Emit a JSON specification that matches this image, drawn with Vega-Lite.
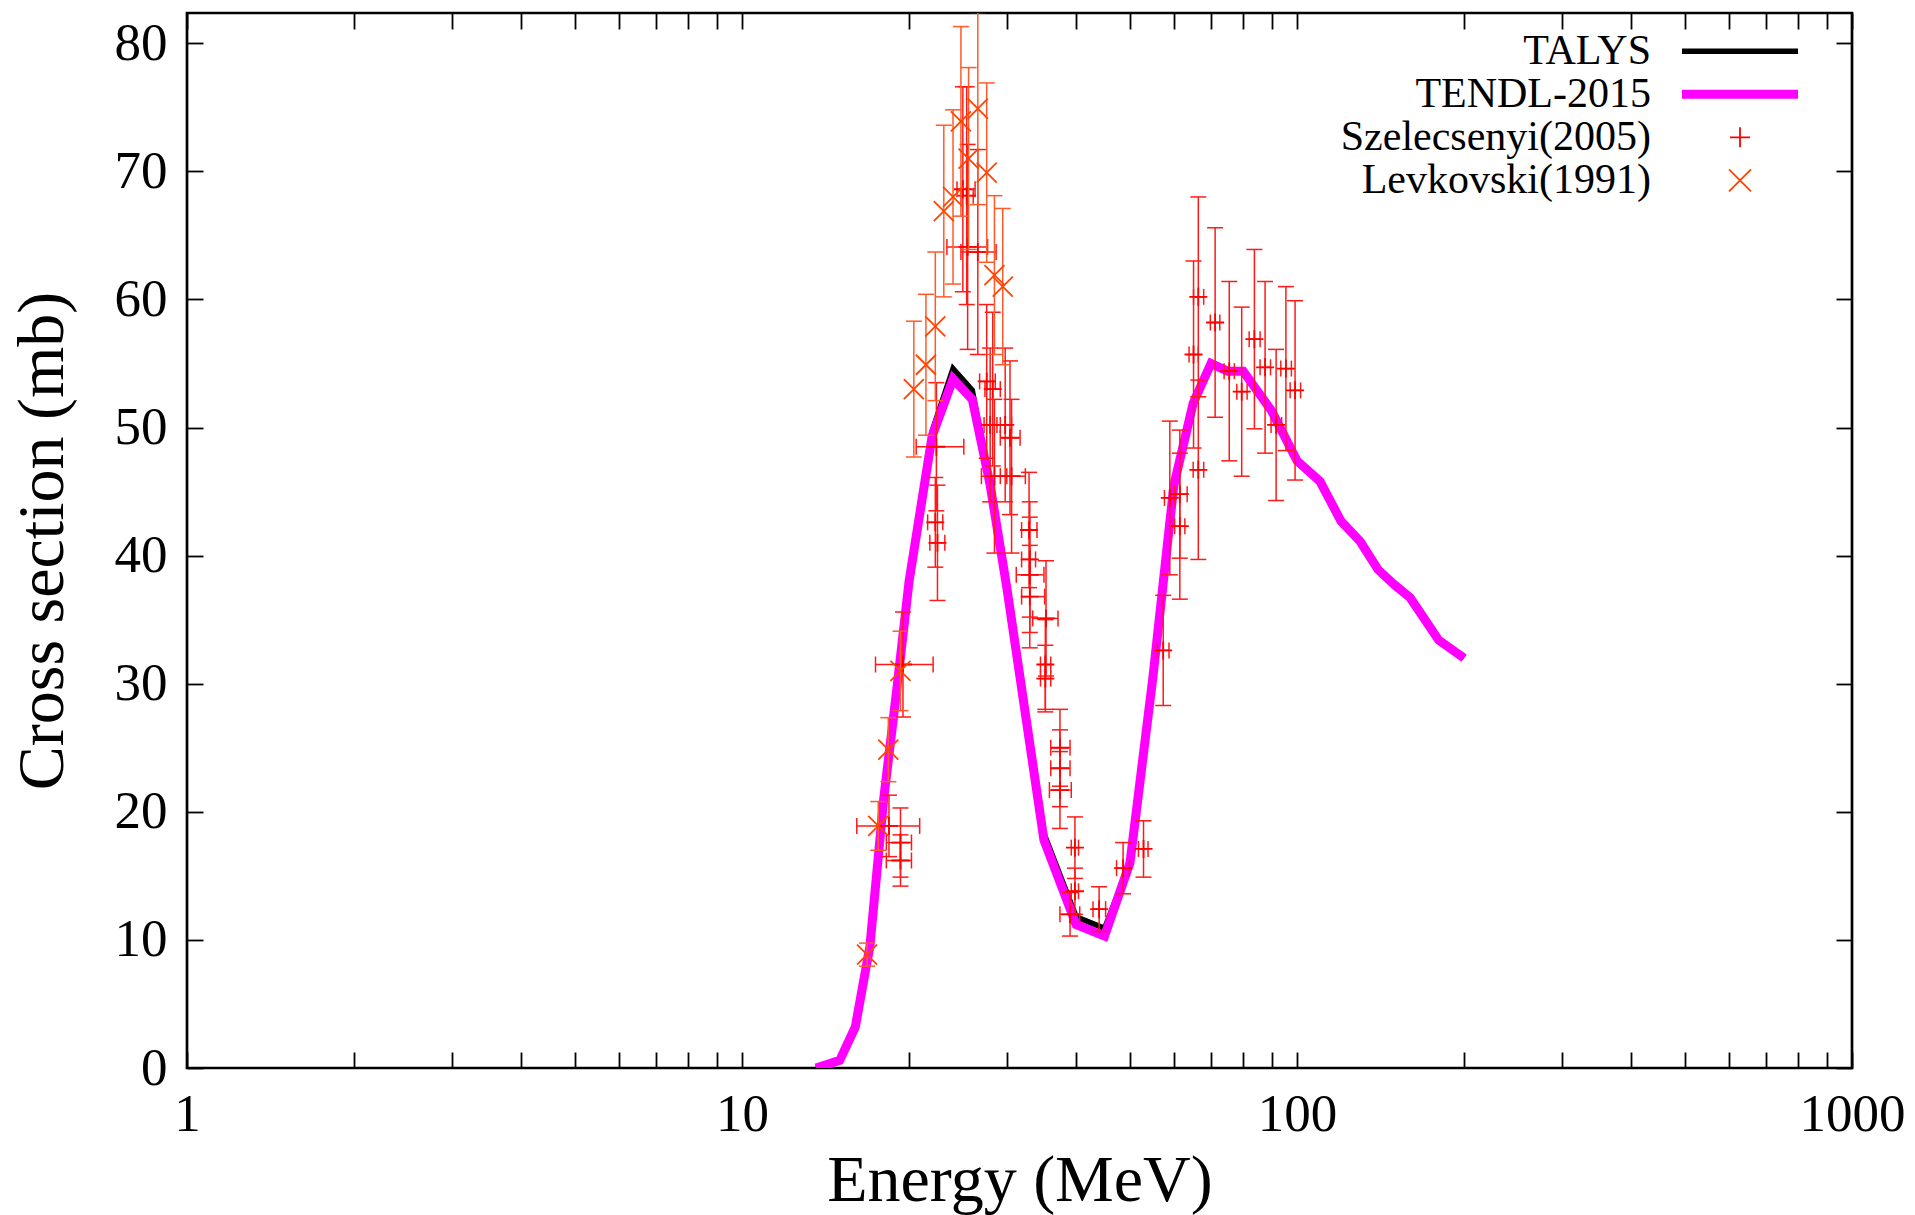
{
  "$schema": "https://vega.github.io/schema/vega-lite/v6.json",
  "width": 1665,
  "height": 1055,
  "autosize": {"type": "none"},
  "padding": {"left": 187, "top": 13, "right": 63, "bottom": 147},
  "background": "white",
  "config": {
    "view": {"stroke": "black", "strokeWidth": 2.7},
    "font": "Liberation Serif",
    "axis": {"domain": false, "grid": false, "tickColor": "black", "tickWidth": 1.8, "labelFont": "Liberation Serif", "labelColor": "black", "titleFont": "Liberation Serif", "titleColor": "black", "titleFontWeight": "normal"}
  },
  "datasets": {
    "talys": [
      {"E": 13.6, "s": 0, "series": "TALYS"}, {"E": 15, "s": 0.6, "series": "TALYS"}, {"E": 16, "s": 3.2, "series": "TALYS"},
      {"E": 17, "s": 9.5, "series": "TALYS"}, {"E": 18, "s": 21, "series": "TALYS"}, {"E": 19, "s": 29.5, "series": "TALYS"},
      {"E": 20, "s": 38, "series": "TALYS"}, {"E": 22, "s": 49.7, "series": "TALYS"}, {"E": 24, "s": 54.6, "series": "TALYS"},
      {"E": 26, "s": 52.9, "series": "TALYS"}, {"E": 28, "s": 45.5, "series": "TALYS"}, {"E": 30, "s": 37.5, "series": "TALYS"},
      {"E": 35, "s": 18.3, "series": "TALYS"}, {"E": 40, "s": 11.8, "series": "TALYS"}, {"E": 45, "s": 10.9, "series": "TALYS"},
      {"E": 50, "s": 16, "series": "TALYS"}, {"E": 55, "s": 30.5, "series": "TALYS"}, {"E": 60, "s": 45.5, "series": "TALYS"},
      {"E": 65, "s": 51.9, "series": "TALYS"}, {"E": 70, "s": 55.0, "series": "TALYS"}, {"E": 75, "s": 54.4, "series": "TALYS"},
      {"E": 80, "s": 54.4, "series": "TALYS"}, {"E": 90, "s": 51.3, "series": "TALYS"}, {"E": 100, "s": 47.4, "series": "TALYS"},
      {"E": 110, "s": 45.8, "series": "TALYS"}, {"E": 120, "s": 42.7, "series": "TALYS"}, {"E": 130, "s": 41.1, "series": "TALYS"},
      {"E": 140, "s": 38.9, "series": "TALYS"}, {"E": 150, "s": 37.7, "series": "TALYS"}, {"E": 160, "s": 36.7, "series": "TALYS"},
      {"E": 180, "s": 33.4, "series": "TALYS"}, {"E": 200, "s": 32.0, "series": "TALYS"}
    ],
    "tendl": [
      {"E": 13.6, "s": 0, "series": "TENDL-2015"}, {"E": 15, "s": 0.6, "series": "TENDL-2015"}, {"E": 16, "s": 3.2, "series": "TENDL-2015"},
      {"E": 17, "s": 9.5, "series": "TENDL-2015"}, {"E": 18, "s": 21, "series": "TENDL-2015"}, {"E": 19, "s": 29.5, "series": "TENDL-2015"},
      {"E": 20, "s": 38, "series": "TENDL-2015"}, {"E": 22, "s": 49.3, "series": "TENDL-2015"}, {"E": 24, "s": 53.8, "series": "TENDL-2015"},
      {"E": 26, "s": 52.2, "series": "TENDL-2015"}, {"E": 28, "s": 45.5, "series": "TENDL-2015"}, {"E": 30, "s": 37.5, "series": "TENDL-2015"},
      {"E": 35, "s": 17.8, "series": "TENDL-2015"}, {"E": 40, "s": 11.2, "series": "TENDL-2015"}, {"E": 45, "s": 10.3, "series": "TENDL-2015"},
      {"E": 50, "s": 16, "series": "TENDL-2015"}, {"E": 55, "s": 30.5, "series": "TENDL-2015"}, {"E": 60, "s": 45.5, "series": "TENDL-2015"},
      {"E": 65, "s": 51.9, "series": "TENDL-2015"}, {"E": 70, "s": 55.0, "series": "TENDL-2015"}, {"E": 75, "s": 54.4, "series": "TENDL-2015"},
      {"E": 80, "s": 54.4, "series": "TENDL-2015"}, {"E": 90, "s": 51.3, "series": "TENDL-2015"}, {"E": 100, "s": 47.4, "series": "TENDL-2015"},
      {"E": 110, "s": 45.8, "series": "TENDL-2015"}, {"E": 120, "s": 42.7, "series": "TENDL-2015"}, {"E": 130, "s": 41.1, "series": "TENDL-2015"},
      {"E": 140, "s": 38.9, "series": "TENDL-2015"}, {"E": 150, "s": 37.7, "series": "TENDL-2015"}, {"E": 160, "s": 36.7, "series": "TENDL-2015"},
      {"E": 180, "s": 33.4, "series": "TENDL-2015"}, {"E": 200, "s": 32.0, "series": "TENDL-2015"}
    ],
    "szel": [
      {"E": 18.4, "s": 18.9, "elo": 16.1, "ehi": 20.9, "slo": 16.5, "shi": 21.3, "series": "Szelecsenyi(2005)"},
      {"E": 19.3, "s": 17.6, "elo": 18.2, "ehi": 20.2, "slo": 14.9, "shi": 20.3, "series": "Szelecsenyi(2005)"},
      {"E": 19.3, "s": 16.2, "elo": 18.2, "ehi": 20.2, "slo": 14.2, "shi": 18.2, "series": "Szelecsenyi(2005)"},
      {"E": 19.5, "s": 31.5, "elo": 17.4, "ehi": 22.1, "slo": 27.4, "shi": 35.6, "series": "Szelecsenyi(2005)"},
      {"E": 22.4, "s": 48.5, "elo": 20.6, "ehi": 25.1, "slo": 43.5, "shi": 53.5, "series": "Szelecsenyi(2005)"},
      {"E": 22.3, "s": 42.6, "elo": 21.6, "ehi": 23.0, "slo": 39.1, "shi": 46.1, "series": "Szelecsenyi(2005)"},
      {"E": 22.5, "s": 41.0, "elo": 21.8, "ehi": 23.2, "slo": 36.5, "shi": 45.5, "series": "Szelecsenyi(2005)"},
      {"E": 25.0, "s": 68.6, "elo": 24.4, "ehi": 26.3, "slo": 60.6, "shi": 76.6, "series": "Szelecsenyi(2005)"},
      {"E": 25.4, "s": 68.1, "elo": 24.8, "ehi": 26.1, "slo": 59.6, "shi": 76.6, "series": "Szelecsenyi(2005)"},
      {"E": 25.5, "s": 64.1, "elo": 23.4, "ehi": 27.7, "slo": 56.1, "shi": 72.1, "series": "Szelecsenyi(2005)"},
      {"E": 26.6, "s": 63.7, "elo": 24.8, "ehi": 28.7, "slo": 55.7, "shi": 71.7, "series": "Szelecsenyi(2005)"},
      {"E": 27.6, "s": 53.6, "elo": 26.8, "ehi": 28.6, "slo": 47.6, "shi": 59.6, "series": "Szelecsenyi(2005)"},
      {"E": 28.3, "s": 53.0, "elo": 27.4, "ehi": 29.2, "slo": 47.0, "shi": 59.0, "series": "Szelecsenyi(2005)"},
      {"E": 28.0, "s": 50.2, "elo": 27.3, "ehi": 28.8, "slo": 44.2, "shi": 56.2, "series": "Szelecsenyi(2005)"},
      {"E": 29.8, "s": 50.2, "elo": 29.2, "ehi": 30.6, "slo": 44.2, "shi": 56.2, "series": "Szelecsenyi(2005)"},
      {"E": 30.4, "s": 49.2, "elo": 29.2, "ehi": 31.7, "slo": 43.2, "shi": 55.2, "series": "Szelecsenyi(2005)"},
      {"E": 28.5, "s": 46.2, "elo": 27.0, "ehi": 30.0, "slo": 40.2, "shi": 52.2, "series": "Szelecsenyi(2005)"},
      {"E": 30.6, "s": 46.2, "elo": 29.2, "ehi": 32.4, "slo": 40.2, "shi": 52.2, "series": "Szelecsenyi(2005)"},
      {"E": 32.9, "s": 42.0, "elo": 31.9, "ehi": 34.0, "slo": 37.5, "shi": 46.5, "series": "Szelecsenyi(2005)"},
      {"E": 33.0, "s": 39.7, "elo": 31.9, "ehi": 33.8, "slo": 35.2, "shi": 44.2, "series": "Szelecsenyi(2005)"},
      {"E": 33.0, "s": 38.5, "elo": 31.2, "ehi": 35.0, "slo": 34.0, "shi": 43.0, "series": "Szelecsenyi(2005)"},
      {"E": 33.0, "s": 36.8, "elo": 31.9, "ehi": 35.1, "slo": 32.8, "shi": 40.8, "series": "Szelecsenyi(2005)"},
      {"E": 35.3, "s": 35.1, "elo": 33.4, "ehi": 37.1, "slo": 30.6, "shi": 39.6, "series": "Szelecsenyi(2005)"},
      {"E": 35.2, "s": 31.5, "elo": 34.5, "ehi": 36.0, "slo": 28.0, "shi": 35.0, "series": "Szelecsenyi(2005)"},
      {"E": 35.2, "s": 30.4, "elo": 34.5, "ehi": 36.0, "slo": 27.8, "shi": 33.0, "series": "Szelecsenyi(2005)"},
      {"E": 37.4, "s": 25.0, "elo": 36.0, "ehi": 39.0, "slo": 22.0, "shi": 28.0, "series": "Szelecsenyi(2005)"},
      {"E": 37.4, "s": 23.4, "elo": 36.0, "ehi": 39.0, "slo": 20.4, "shi": 26.4, "series": "Szelecsenyi(2005)"},
      {"E": 37.4, "s": 21.7, "elo": 35.8, "ehi": 39.2, "slo": 18.7, "shi": 24.7, "series": "Szelecsenyi(2005)"},
      {"E": 39.8, "s": 17.2, "elo": 39.2, "ehi": 40.4, "slo": 14.8, "shi": 19.6, "series": "Szelecsenyi(2005)"},
      {"E": 39.8, "s": 13.8, "elo": 39.2, "ehi": 40.4, "slo": 12.0, "shi": 15.6, "series": "Szelecsenyi(2005)"},
      {"E": 39.0, "s": 12.0, "elo": 37.4, "ehi": 40.6, "slo": 10.3, "shi": 13.7, "series": "Szelecsenyi(2005)"},
      {"E": 44.0, "s": 12.4, "elo": 42.9, "ehi": 45.2, "slo": 10.65, "shi": 14.15, "series": "Szelecsenyi(2005)"},
      {"E": 48.6, "s": 15.6, "elo": 47.3, "ehi": 49.9, "slo": 13.6, "shi": 17.6, "series": "Szelecsenyi(2005)"},
      {"E": 52.9, "s": 17.1, "elo": 51.8, "ehi": 53.9, "slo": 14.9, "shi": 19.3, "series": "Szelecsenyi(2005)"},
      {"E": 57.4, "s": 32.6, "elo": 56.0, "ehi": 58.8, "slo": 28.3, "shi": 36.9, "series": "Szelecsenyi(2005)"},
      {"E": 59.0, "s": 44.5, "elo": 57.7, "ehi": 60.3, "slo": 38.5, "shi": 50.5, "series": "Szelecsenyi(2005)"},
      {"E": 61.5, "s": 44.8, "elo": 60.2, "ehi": 63.4, "slo": 39.8, "shi": 49.8, "series": "Szelecsenyi(2005)"},
      {"E": 61.5, "s": 42.3, "elo": 60.2, "ehi": 62.8, "slo": 36.6, "shi": 48.0, "series": "Szelecsenyi(2005)"},
      {"E": 66.4, "s": 46.7, "elo": 65.0, "ehi": 67.9, "slo": 39.7, "shi": 53.7, "series": "Szelecsenyi(2005)"},
      {"E": 65.1, "s": 55.7, "elo": 63.9, "ehi": 66.4, "slo": 48.4, "shi": 63.0, "series": "Szelecsenyi(2005)"},
      {"E": 66.4, "s": 60.2, "elo": 65.1, "ehi": 67.9, "slo": 52.4, "shi": 68.0, "series": "Szelecsenyi(2005)"},
      {"E": 71.2, "s": 58.2, "elo": 69.8, "ehi": 72.6, "slo": 50.8, "shi": 65.6, "series": "Szelecsenyi(2005)"},
      {"E": 75.5, "s": 54.4, "elo": 73.9, "ehi": 77.1, "slo": 47.4, "shi": 61.4, "series": "Szelecsenyi(2005)"},
      {"E": 79.5, "s": 52.8, "elo": 77.9, "ehi": 81.3, "slo": 46.2, "shi": 59.4, "series": "Szelecsenyi(2005)"},
      {"E": 83.8, "s": 56.9, "elo": 82.0, "ehi": 85.8, "slo": 49.9, "shi": 63.9, "series": "Szelecsenyi(2005)"},
      {"E": 87.6, "s": 54.7, "elo": 85.8, "ehi": 89.6, "slo": 48.0, "shi": 61.4, "series": "Szelecsenyi(2005)"},
      {"E": 91.7, "s": 50.2, "elo": 89.8, "ehi": 93.8, "slo": 44.3, "shi": 56.1, "series": "Szelecsenyi(2005)"},
      {"E": 95.5, "s": 54.6, "elo": 93.5, "ehi": 97.7, "slo": 48.2, "shi": 61.0, "series": "Szelecsenyi(2005)"},
      {"E": 99.2, "s": 52.9, "elo": 97.2, "ehi": 101.5, "slo": 45.9, "shi": 59.9, "series": "Szelecsenyi(2005)"}
    ],
    "levk": [
      {"E": 16.8, "s": 8.85, "slo": 7.95, "shi": 9.75, "series": "Levkovski(1991)"},
      {"E": 17.6, "s": 18.9, "slo": 17.0, "shi": 20.8, "series": "Levkovski(1991)"},
      {"E": 18.35, "s": 24.85, "slo": 22.35, "shi": 27.35, "series": "Levkovski(1991)"},
      {"E": 19.3, "s": 31.0, "slo": 27.9, "shi": 34.1, "series": "Levkovski(1991)"},
      {"E": 20.4, "s": 53.0, "slo": 47.7, "shi": 58.3, "series": "Levkovski(1991)"},
      {"E": 21.45, "s": 54.9, "slo": 49.4, "shi": 60.4, "series": "Levkovski(1991)"},
      {"E": 22.3, "s": 57.9, "slo": 52.1, "shi": 63.7, "series": "Levkovski(1991)"},
      {"E": 23.1, "s": 66.9, "slo": 60.2, "shi": 73.6, "series": "Levkovski(1991)"},
      {"E": 24.0, "s": 68.0, "slo": 61.2, "shi": 74.8, "series": "Levkovski(1991)"},
      {"E": 24.8, "s": 73.9, "slo": 66.5, "shi": 81.3, "series": "Levkovski(1991)"},
      {"E": 25.6, "s": 71.0, "slo": 63.9, "shi": 78.1, "series": "Levkovski(1991)"},
      {"E": 26.6, "s": 74.9, "slo": 67.4, "shi": 82.4, "series": "Levkovski(1991)"},
      {"E": 27.6, "s": 69.9, "slo": 62.9, "shi": 76.9, "series": "Levkovski(1991)"},
      {"E": 28.5, "s": 61.9, "slo": 55.7, "shi": 68.1, "series": "Levkovski(1991)"},
      {"E": 29.5, "s": 61.0, "slo": 54.9, "shi": 67.1, "series": "Levkovski(1991)"}
    ]
  },
  "layer": [
    {
      "data": {"name": "talys"},
      "mark": {"type": "line", "strokeWidth": 5.5, "strokeJoin": "miter", "clip": true},
      "encoding": {
        "x": {"field": "E", "type": "quantitative", "scale": {"type": "log", "domain": [1, 1000], "nice": false},
          "axis": {"orient": "bottom", "values": [1,2,3,4,5,6,7,8,9,10,20,30,40,50,60,70,80,90,100,200,300,400,500,600,700,800,900,1000],
            "labelExpr": "(datum.value==1||datum.value==10||datum.value==100||datum.value==1000) ? format(datum.value,'d') : ''",
            "labelFontSize": 53, "labelPadding": 36, "tickSize": -16, "labelOverlap": false, "labelFlush": false, "labelBound": false,
            "title": "Energy (MeV)", "titleFontSize": 66, "titleBaseline": "alphabetic", "titleY": 132, "titleX": 832.5, "titleAlign": "center",
            "encode": {"ticks": {"update": {"y2": {"signal": "(datum.value==1||datum.value==10||datum.value==100||datum.value==1000) ? -16 : -8"}}}}}},
        "y": {"field": "s", "type": "quantitative", "scale": {"domain": [0, 82.36], "nice": false, "zero": false},
          "axis": {"orient": "left", "values": [0,10,20,30,40,50,60,70,80], "labelFontSize": 53, "labelPadding": 36, "tickSize": -16, "labelOverlap": false, "labelFlush": false,
            "title": "Cross section (mb)", "titleFontSize": 66, "titleBaseline": "alphabetic", "titleAngle": 270, "titleX": -125, "titleY": 527.5, "titleAlign": "center"}},
        "color": {"field": "series", "type": "nominal",
          "scale": {"domain": ["TALYS", "TENDL-2015", "Szelecsenyi(2005)", "Levkovski(1991)"], "range": ["#000000", "#ff00ff", "#ff0000", "#ff4500"]},
          "legend": {"orient": "none", "legendX": 1100, "legendY": 16.8, "title": null, "padding": 0, "rowPadding": -0.5,
            "labelFont": "Liberation Serif", "labelFontSize": 42, "labelColor": "black", "labelLimit": 0,
            "encode": {
              "labels": {"update": {"x": {"value": 364}, "y": {"value": 21.5}, "align": {"value": "right"}, "baseline": {"value": "middle"}}},
              "symbols": {"update": {
                "x": {"value": 453},
                "y": {"value": 21.5},
                "shape": {"signal": "((datum.value==='TALYS'||datum.value==='TENDL-2015') ? 'M-1,0H1' : (datum.value==='Szelecsenyi(2005)' ? 'M-1,0H1M0,-1V1' : 'M-1,-1L1,1M-1,1L1,-1'))"},
                "size": {"signal": "((datum.value==='TALYS'||datum.value==='TENDL-2015') ? 13456 : (datum.value==='Szelecsenyi(2005)' ? 400 : 484))"},
                "strokeWidth": {"signal": "(datum.value==='TENDL-2015' ? 9 : (datum.value==='TALYS' ? 5.5 : 1.8))"},
                "fill": {"value": "transparent"},
                "stroke": {"signal": "(datum.value==='TALYS' ? '#000000' : (datum.value==='TENDL-2015' ? '#ff00ff' : (datum.value==='Szelecsenyi(2005)' ? '#ff0000' : '#ff4500')))"},
                "opacity": {"value": 1}
              }}}}}
      }
    },
    {
      "data": {"name": "tendl"},
      "mark": {"type": "line", "strokeWidth": 9, "strokeJoin": "miter", "clip": true},
      "encoding": {
        "x": {"field": "E", "type": "quantitative", "scale": {"type": "log", "domain": [1, 1000], "nice": false},
          "axis": {"orient": "top", "values": [1,2,3,4,5,6,7,8,9,10,20,30,40,50,60,70,80,90,100,200,300,400,500,600,700,800,900,1000],
            "labels": false, "tickSize": -16, "title": null,
            "encode": {"ticks": {"update": {"y2": {"signal": "(datum.value==1||datum.value==10||datum.value==100||datum.value==1000) ? 16 : 8"}}}}}},
        "y": {"field": "s", "type": "quantitative", "scale": {"domain": [0, 82.36], "nice": false, "zero": false},
          "axis": {"orient": "right", "values": [0,10,20,30,40,50,60,70,80], "labels": false, "tickSize": -16, "title": null}},
        "color": {"field": "series", "type": "nominal"}
      }
    },
    {
      "data": {"name": "szel"},
      "mark": {"type": "rule", "color": "#ff1a1a", "strokeWidth": 1.5, "clip": true},
      "encoding": {
        "x": {"field": "E", "type": "quantitative", "axis": null},
        "y": {"field": "slo", "type": "quantitative", "axis": null},
        "y2": {"field": "shi"}
      }
    },
    {
      "data": {"name": "szel"},
      "mark": {"type": "rule", "color": "#ff1a1a", "strokeWidth": 1.5, "clip": true},
      "encoding": {
        "x": {"field": "elo", "type": "quantitative", "axis": null},
        "x2": {"field": "ehi"},
        "y": {"field": "s", "type": "quantitative", "axis": null}
      }
    },
    {
      "data": {"name": "szel"},
      "mark": {"type": "tick", "orient": "horizontal", "color": "#ff1a1a", "size": 16, "thickness": 1.5, "opacity": 1, "clip": true},
      "encoding": {"x": {"field": "E", "type": "quantitative", "axis": null}, "y": {"field": "slo", "type": "quantitative", "axis": null}}
    },
    {
      "data": {"name": "szel"},
      "mark": {"type": "tick", "orient": "horizontal", "color": "#ff1a1a", "size": 16, "thickness": 1.5, "opacity": 1, "clip": true},
      "encoding": {"x": {"field": "E", "type": "quantitative", "axis": null}, "y": {"field": "shi", "type": "quantitative", "axis": null}}
    },
    {
      "data": {"name": "szel"},
      "mark": {"type": "tick", "orient": "vertical", "color": "#ff1a1a", "size": 16, "thickness": 1.5, "opacity": 1, "clip": true},
      "encoding": {"x": {"field": "elo", "type": "quantitative", "axis": null}, "y": {"field": "s", "type": "quantitative", "axis": null}}
    },
    {
      "data": {"name": "szel"},
      "mark": {"type": "tick", "orient": "vertical", "color": "#ff1a1a", "size": 16, "thickness": 1.5, "opacity": 1, "clip": true},
      "encoding": {"x": {"field": "ehi", "type": "quantitative", "axis": null}, "y": {"field": "s", "type": "quantitative", "axis": null}}
    },
    {
      "data": {"name": "szel"},
      "mark": {"type": "point", "shape": "M-1,0H1M0,-1V1", "size": 324, "filled": false, "strokeWidth": 1.8, "opacity": 1, "clip": true},
      "encoding": {
        "x": {"field": "E", "type": "quantitative", "axis": null},
        "y": {"field": "s", "type": "quantitative", "axis": null},
        "color": {"field": "series", "type": "nominal"}
      }
    },
    {
      "data": {"name": "levk"},
      "mark": {"type": "rule", "color": "#ff5a28", "strokeWidth": 1.5, "clip": true},
      "encoding": {
        "x": {"field": "E", "type": "quantitative", "axis": null},
        "y": {"field": "slo", "type": "quantitative", "axis": null},
        "y2": {"field": "shi"}
      }
    },
    {
      "data": {"name": "levk"},
      "mark": {"type": "tick", "orient": "horizontal", "color": "#ff5a28", "size": 16, "thickness": 1.5, "opacity": 1, "clip": true},
      "encoding": {"x": {"field": "E", "type": "quantitative", "axis": null}, "y": {"field": "slo", "type": "quantitative", "axis": null}}
    },
    {
      "data": {"name": "levk"},
      "mark": {"type": "tick", "orient": "horizontal", "color": "#ff5a28", "size": 16, "thickness": 1.5, "opacity": 1, "clip": true},
      "encoding": {"x": {"field": "E", "type": "quantitative", "axis": null}, "y": {"field": "shi", "type": "quantitative", "axis": null}}
    },
    {
      "data": {"name": "levk"},
      "mark": {"type": "point", "shape": "M-1,-1L1,1M-1,1L1,-1", "size": 400, "filled": false, "strokeWidth": 1.8, "opacity": 1, "clip": true},
      "encoding": {
        "x": {"field": "E", "type": "quantitative", "axis": null},
        "y": {"field": "s", "type": "quantitative", "axis": null},
        "color": {"field": "series", "type": "nominal"}
      }
    }
  ],
  "resolve": {"axis": {"x": "independent", "y": "independent"}}
}
